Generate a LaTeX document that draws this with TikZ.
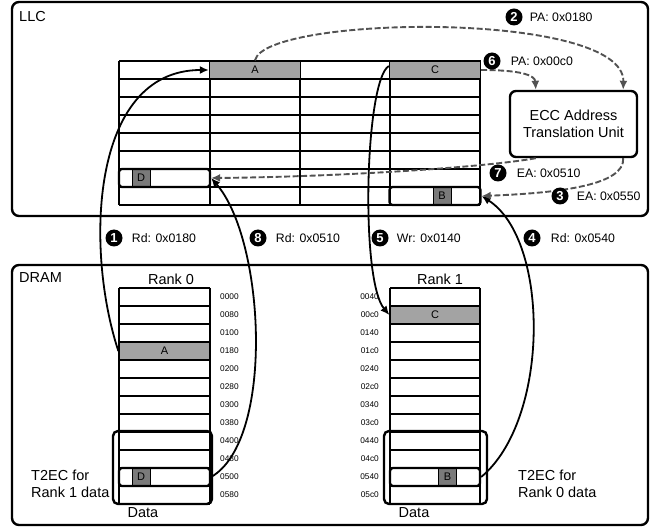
\documentclass[tikz,border=0pt]{standalone}
\usepackage{fontspec}
\setmainfont{Liberation Sans}
\usetikzlibrary{arrows.meta,positioning,calc}

\begin{document}
\begin{tikzpicture}[x=1pt,y=1pt,
    box/.style={draw, line width=2.4pt, rounded corners=7pt},
    gridline/.style={line width=1.3pt},
    cell/.style={draw, line width=1.3pt, minimum width=91pt, minimum height=18pt, inner sep=0pt, font=\fontsize{11}{12}\selectfont},
    tagbox/.style={draw, line width=2.3pt, rounded corners=3pt, minimum width=91pt, minimum height=18pt, inner sep=0pt},
    tagcell/.style={draw, line width=0.9pt, fill=black!52, minimum size=18pt, inner sep=0pt, font=\fontsize{11}{12}\selectfont},
    big/.style={font=\fontsize{14.5}{17}\selectfont, inner sep=0pt},
    addr/.style={font=\fontsize{8.3}{9}\selectfont, inner sep=0pt},
    stepnum/.style={circle, fill=black, text=white, minimum size=17pt, inner sep=0pt, font=\fontsize{13}{13}\selectfont\bfseries},
    steptext/.style={font=\fontsize{12.3}{14}\selectfont, inner sep=0pt},
    dataarrow/.style={line width=1.8pt, -{Latex[length=9pt,width=8pt]}},
    addrarrow/.style={line width=1.9pt, black!68, dash pattern=on 6pt off 2.5pt, -{Latex[length=9pt,width=8pt]}}]
  \useasboundingbox (0,0) rectangle (653,-529);

  % LLC and DRAM frames
  \draw[box] (12,-2) rectangle (648,-216);
  \draw[box] (12,-265) rectangle (648,-525);
  \node[big, anchor=base west] (llc) at (19,-22) {LLC};
  \node[big, anchor=base west] (dram) at (19,-283) {DRAM};

  % LLC array
  \foreach \r in {0,...,8}
    \draw[gridline] (119,-61-18*\r) -- (480,-61-18*\r);
  \foreach \c in {119,210,300,390,480}
    \draw[gridline] (\c,-61) -- (\c,-205);
  \node[cell, fill=black!36] (cA) at (255,-70) {A};
  \node[cell, fill=black!36] (cC) at (435,-70) {C};
  \node[tagcell] (cDtag) at (141,-178) {D};
  \node[tagbox] (cD) at (164.5,-178) {};
  \node[tagcell] (cBtag) at (442,-196) {B};
  \node[tagbox] (cB) at (435,-196) {};

  % ECC address translation
  \node[draw, line width=2.4pt, rounded corners=6pt, minimum width=127pt, minimum height=66pt,
        align=center, font=\fontsize{14.5}{17.5}\selectfont] (ecc) at (573.5,-124)
        {ECC Address\\Translation Unit};

  % DRAM ranks
  \foreach \i in {0,...,12} {
    \draw[gridline] (119,-288-18*\i) -- (210,-288-18*\i);
    \draw[gridline] (390,-288-18*\i) -- (480,-288-18*\i);
  }
  \foreach \c in {119,210,390,480}
    \draw[gridline] (\c,-288) -- (\c,-504);
  \foreach \a [count=\i from 0] in {0000,0080,0100,0180,0200,0280,0300,0380,0400,0480,0500,0580}
    \node[addr, anchor=west] (ra\i) at (220,-297-18*\i) {\a};
  \foreach \a [count=\i from 0] in {0040,00c0,0140,01c0,0240,02c0,0340,03c0,0440,04c0,0540,05c0}
    \node[addr, anchor=east] (rb\i) at (379,-297-18*\i) {\a};
  \node[big, anchor=base] (rank0) at (171,-285) {Rank 0};
  \node[big, anchor=base] (rank1) at (440,-285) {Rank 1};

  \node[cell, fill=black!36] (dA) at (164.5,-351) {A};
  \node[cell, fill=black!36, minimum width=90pt] (dC) at (435,-315) {C};
  \node[tagcell] (dDtag) at (141,-477) {D};
  \node[tagbox] (dD) at (164.5,-477) {};
  \node[tagcell] (dBtag) at (447.5,-477) {B};
  \node[tagbox, minimum width=90pt] (dB) at (435,-477) {};

  % T2EC regions
  \draw[box, rounded corners=5pt] (113,-431) rectangle (212,-504);
  \draw[box, rounded corners=5pt] (384,-431) rectangle (487,-504);
  \node[big, align=left, anchor=west] (t2ec0) at (31,-484) {T2EC for\\Rank 1 data};
  \node[big, align=left, anchor=west] (t2ec1) at (518,-484) {T2EC for\\Rank 0 data};
  \node[big, anchor=base] (data0) at (143,-517) {Data};
  \node[big, anchor=base] (data1) at (414,-517) {Data};

  % data movement
  \draw[dataarrow] (dA.west) .. controls (85,-250) and (90,-70) .. (cA.west);
  \draw[dataarrow] (dD.east) .. controls (275,-440) and (265,-240) .. (cD.east);
  \draw[dataarrow] ([yshift=4pt]cC.west) .. controls (365,-80) and (360,-280) .. (dC.west);
  \draw[dataarrow] (dB.east) .. controls (550,-420) and (550,-240) .. (cB.east);

  % address translation
  \draw[addrarrow] (cA.north) .. controls (265,-15) and (625,-10) .. ([xshift=-15pt]ecc.north east);
  \draw[addrarrow] (cC.east) .. controls (520,-70) and (535,-75) .. ([xshift=27pt]ecc.north west);
  \draw[addrarrow] ([xshift=27pt]ecc.south west) .. controls (480,-168) and (330,-177) .. (cD.east);
  \draw[addrarrow] ([xshift=-15pt]ecc.south east) .. controls (625,-185) and (560,-193) .. (cB.east);

  % step labels
  \node[stepnum] (s1) at (114,-238) {1};
  \node[steptext, right=9pt of s1] (t1) {Rd: 0x0180};
  \node[stepnum] (s2) at (514,-17) {2};
  \node[steptext, right=7pt of s2] (t2) {PA: 0x0180};
  \node[stepnum] (s3) at (560,-196) {3};
  \node[steptext, right=8pt of s3] (t3) {EA: 0x0550};
  \node[stepnum] (s4) at (532,-238) {4};
  \node[steptext, right=10pt of s4] (t4) {Rd: 0x0540};
  \node[stepnum] (s5) at (380,-238) {5};
  \node[steptext, right=8pt of s5] (t5) {Wr: 0x0140};
  \node[stepnum] (s6) at (492,-61) {6};
  \node[steptext, right=10pt of s6] (t6) {PA: 0x00c0};
  \node[stepnum] (s7) at (498,-173) {7};
  \node[steptext, right=10pt of s7] (t7) {EA: 0x0510};
  \node[stepnum] (s8) at (258,-238) {8};
  \node[steptext, right=9pt of s8] (t8) {Rd: 0x0510};
\end{tikzpicture}
\end{document}
